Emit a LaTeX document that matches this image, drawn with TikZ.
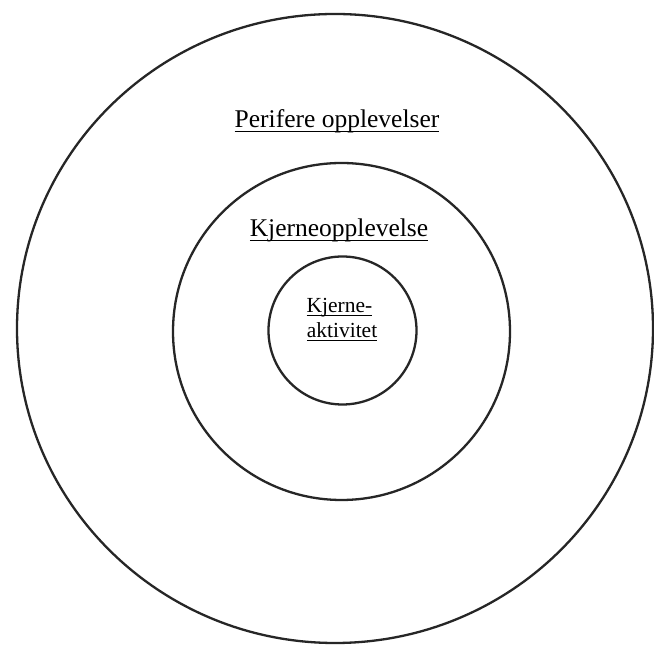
\documentclass[tikz,border=0pt]{standalone}
\usepackage{fontspec}
\setmainfont{Liberation Serif}
\newcommand\myul[1]{\setbox0\hbox{#1}\rlap{\vrule height -0.1em depth 0.16em width \wd0}\box0}
\begin{document}
\begin{tikzpicture}[x=1pt,y=1pt,
  ring/.style={draw=black!85,line width=2.3pt},
  lbl/.style={anchor=base,inner sep=0pt,font=\fontsize{25.5}{30}\selectfont},
  small/.style={anchor=base,inner sep=0pt,font=\fontsize{21.5}{25}\selectfont}]
\useasboundingbox (0,0) rectangle (654,645);
\fill[white] (0,0) rectangle (654,645);
\draw[ring] (335,316.5) ellipse [x radius=318, y radius=314.5];
\draw[ring] (341.5,313.5) circle [radius=168.5];
\draw[ring] (342.5,314.5) circle [radius=74];
\node[lbl] (outer) at (337,517) {\myul{Perifere opplevelser}};
\node[lbl] (mid) at (339,408) {\myul{Kjerneopplevelse}};
\node[small] (in1) at (339.5,332) {\myul{Kjerne-}};
\node[small] (in2) at (342,307) {\myul{aktivitet}};
\end{tikzpicture}
\end{document}
